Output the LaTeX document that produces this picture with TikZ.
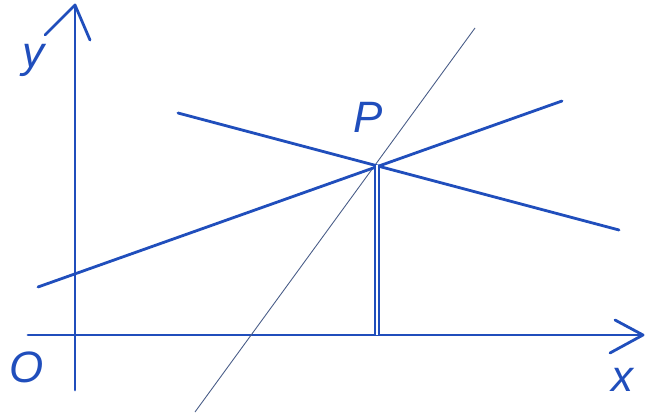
\documentclass[tikz,border=0pt]{standalone}
\usepackage{fontspec}
\setsansfont{Liberation Sans}
\usepackage[dvipsnames]{xcolor}
\definecolor{penblue}{RGB}{32,78,188}
\definecolor{pencilblue}{RGB}{72,92,135}

\begin{document}
\begin{tikzpicture}
    \pgfmathsetmacro{\width}{12.9}
    \pgfmathsetmacro{\height}{8.3}
    \tikzset{every node/.style={font=\sffamily\itshape\fontsize{25}{30}\selectfont,text=penblue,inner sep=0pt},
             pen/.style={draw=penblue,line width=1.6pt,line cap=round,line join=round},
             pencil/.style={draw=pencilblue,line width=0.5pt}}
    \useasboundingbox (0,0) rectangle (\width,\height);
    % axes
    \coordinate (ybot) at (1.5,0.5);
    \coordinate (ytip) at (1.5,8.2);
    \coordinate (yl) at (0.9,7.6);
    \coordinate (yr) at (1.8,7.5);
    \coordinate (xleft) at (0.56,1.6);
    \coordinate (xtip) at (12.86,1.6);
    \coordinate (xu) at (12.3,1.9);
    \coordinate (xd) at (12.2,1.24);
    \draw[pen] (ybot) -- (ytip);
    \draw[pen] (yl) -- (ytip) -- (yr);
    \draw[pen] (xleft) -- (xtip);
    \draw[pen] (xu) -- (xtip) -- (xd);
    % lines through P
    \coordinate (P) at (7.54,5.0);
    \coordinate (foot) at (7.54,1.6);
    \coordinate (a1) at (0.76,2.56);
    \coordinate (a2) at (11.24,6.28);
    \coordinate (b1) at (3.56,6.04);
    \coordinate (b2) at (12.38,3.7);
    \coordinate (c1) at (3.9,0.06);
    \coordinate (c2) at (9.5,7.74);
    \draw[pencil] (c1) -- (c2);
    \draw[pen] (a1) -- (a2);
    \draw[pen] (b1) -- (b2);
    \draw[draw=penblue,line width=1pt,double=white,double distance=1.4pt] (P) -- (foot);
    % labels
    \node (Plabel) at (7.36,5.96) {P};
    \node (ylabel) at (0.66,7.1) {y};
    \node (Olabel) at (0.54,0.96) {O};
    \node (xlabel) at (12.44,0.7) {x};
\end{tikzpicture}
\end{document}
